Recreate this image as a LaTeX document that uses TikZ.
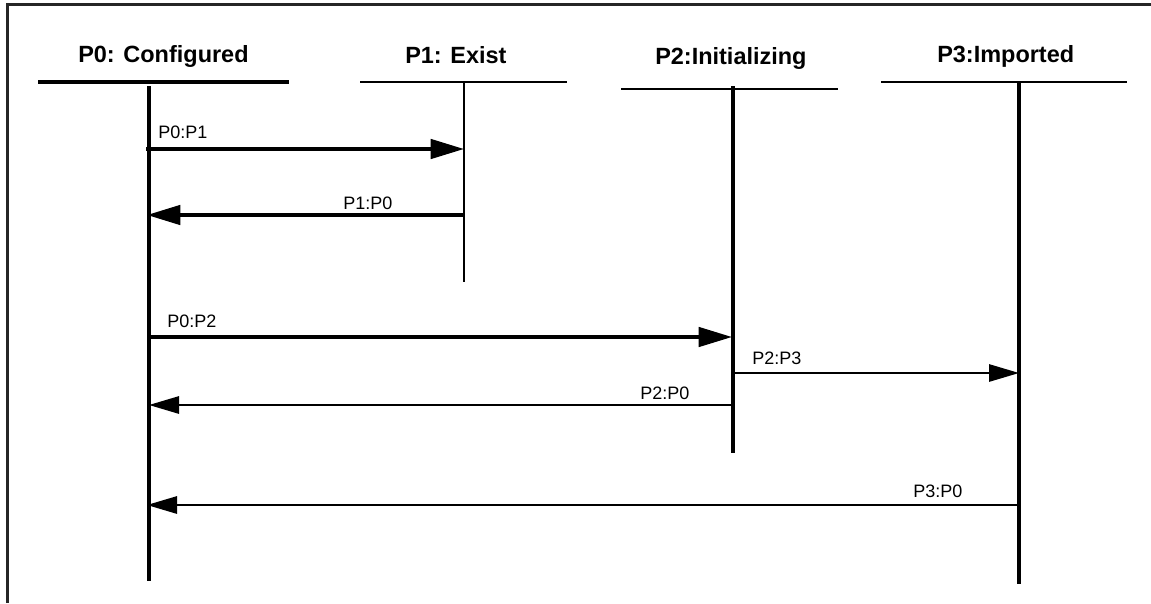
\documentclass[tikz,border=0pt]{standalone}
\usepackage{fontspec}
\setmainfont{Liberation Sans}
\usetikzlibrary{arrows.meta}
\begin{document}
\begin{tikzpicture}[x=0.75pt,y=-0.75pt,
  frame/.style={line width=1.7pt, black!85},
  heavy/.style={line width=2.7pt},
  light/.style={line width=1.35pt},
  head/.style={font=\fontsize{17.6}{20}\selectfont\bfseries, inner sep=0pt, anchor=base west},
  lbl/.style={font=\fontsize{13.5}{16}\selectfont, inner sep=0pt, anchor=base west},
  msg/.style={-{Triangle[length=22.5pt,width=13pt]}},
  bigmsg/.style={-{Triangle[length=25pt,width=14.5pt]}},
]
\useasboundingbox (0,0) rectangle (1151,603);

% outer frame (open to the right and bottom)
\draw[frame] (7.5,603) -- (7.5,4.5) -- (1151,4.5);

% participant headers
\node[head] (h0) at (78,62) {P0: Configured};
\node[head] (h1) at (405,63) {P1: Exist};
\node[head] (h2) at (655,64) {P2:Initializing};
\node[head] (h3) at (937,62) {P3:Imported};

% header underlines
\coordinate (u0a) at (38,82);  \coordinate (u0b) at (289,82);
\coordinate (u1a) at (360,82); \coordinate (u1b) at (567,82);
\coordinate (u2a) at (621,89); \coordinate (u2b) at (838,89);
\coordinate (u3a) at (881,82); \coordinate (u3b) at (1127,82);
\draw[heavy] (u0a) -- (u0b);
\draw[light] (u1a) -- (u1b);
\draw[light] (u2a) -- (u2b);
\draw[light] (u3a) -- (u3b);

% lifelines
\coordinate (l0t) at (149,86);  \coordinate (l0b) at (149,581);
\coordinate (l1t) at (464,82);  \coordinate (l1b) at (464,282);
\coordinate (l2t) at (733,86);  \coordinate (l2b) at (733,453);
\coordinate (l3t) at (1019,82); \coordinate (l3b) at (1019,584);
\draw[heavy] (l0t) -- (l0b);
\draw[light] (l1t) -- (l1b);
\draw[heavy] (l2t) -- (l2b);
\draw[heavy] (l3t) -- (l3b);

% message end points
\coordinate (m1a) at (146,149);  \coordinate (m1b) at (464,149);
\coordinate (m2a) at (463,215);  \coordinate (m2b) at (147,215);
\coordinate (m3a) at (149,337);  \coordinate (m3b) at (732,337);
\coordinate (m4a) at (732,373);  \coordinate (m4b) at (1019,373);
\coordinate (m5a) at (733,405);  \coordinate (m5b) at (149,405);
\coordinate (m6a) at (1017,505); \coordinate (m6b) at (147,505);

% messages
\draw[heavy,bigmsg] (m1a) -- (m1b);
\draw[heavy,bigmsg] (m2a) -- (m2b);
\draw[heavy,bigmsg] (m3a) -- (m3b);
\draw[light,msg] (m4a) -- (m4b);
\draw[light,msg] (m5a) -- (m5b);
\draw[light,msg] (m6a) -- (m6b);

% message labels
\node[lbl] (t1) at (158,138) {P0:P1};
\node[lbl] (t2) at (343,209) {P1:P0};
\node[lbl] (t3) at (167,327) {P0:P2};
\node[lbl] (t4) at (752,364) {P2:P3};
\node[lbl] (t5) at (640,399) {P2:P0};
\node[lbl] (t6) at (913,497) {P3:P0};
\end{tikzpicture}
\end{document}
